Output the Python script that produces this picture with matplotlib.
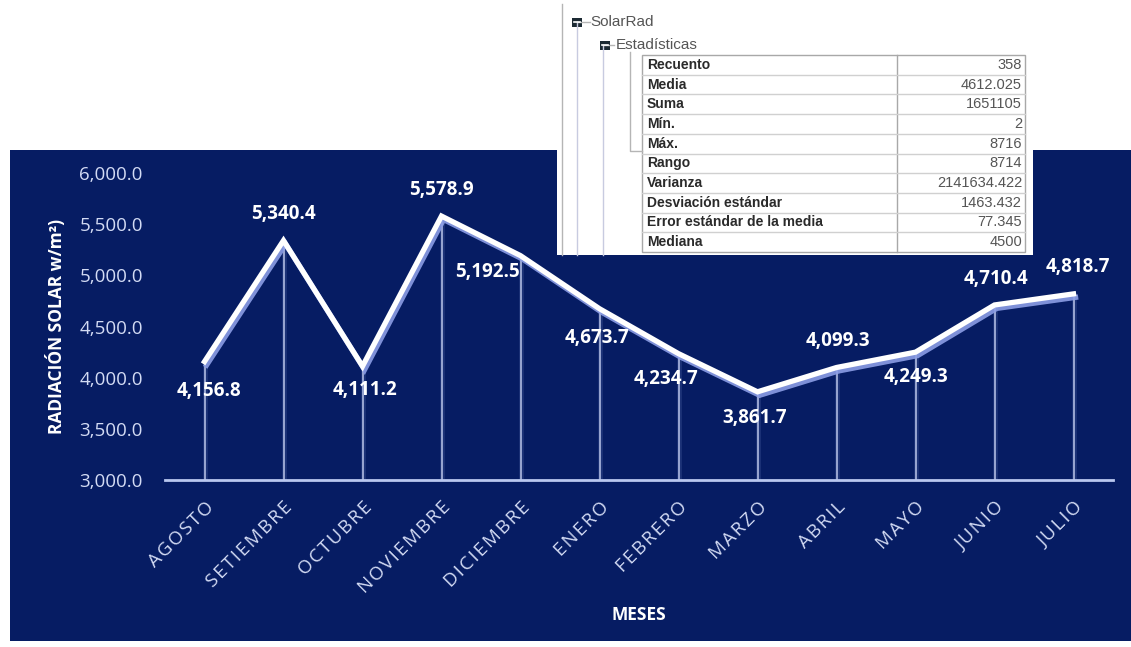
import matplotlib.pyplot as plt
import matplotlib.patheffects as pe
from matplotlib.patches import Rectangle
from matplotlib.ticker import FuncFormatter

# monthly mean solar radiation
meses = ['AGOSTO', 'SETIEMBRE', 'OCTUBRE', 'NOVIEMBRE', 'DICIEMBRE', 'ENERO',
         'FEBRERO', 'MARZO', 'ABRIL', 'MAYO', 'JUNIO', 'JULIO']
radiacion = [4156.8, 5340.4, 4111.2, 5578.9, 5192.5, 4673.7,
             4234.7, 3861.7, 4099.3, 4249.3, 4710.4, 4818.7]

# descriptive statistics of SolarRad
est_nombres = ['Recuento', 'Media', 'Suma', 'Mín.', 'Máx.', 'Rango', 'Varianza',
               'Desviación estándar', 'Error estándar de la media', 'Mediana']
est_valores = ['358', '4612.025', '1651105', '2', '8716', '8714', '2141634.422',
               '1463.432', '77.345', '4500']

NAVY = '#061c63'
LIGHT = '#d3dbf4'
FONT = ['Open Sans', 'DejaVu Sans']
W, H = 1131, 647

fig = plt.figure(figsize=(W / 100, H / 100), dpi=100)
fig.patch.set_facecolor('white')

# dark background block
bg = fig.add_axes([0, 0, 1, 1], zorder=0)
bg.set_xlim(0, W)
bg.set_ylim(H, 0)
bg.axis('off')
bg.add_patch(Rectangle((10, 150), 1121, 491, facecolor=NAVY, edgecolor='none'))

ax = fig.add_axes([165 / W, 1 - 480 / H, 948 / W, 307 / H], zorder=1)
ax.set_facecolor('none')
x = list(range(len(meses)))
ax.set_xlim(-0.5, len(meses) - 0.5)
ax.set_ylim(3000, 6000)

# drop lines from each point to the axis
ax.vlines(x, 3000, radiacion, colors='#9fb0ea', linewidth=3.5, alpha=0.15, zorder=2)
ax.vlines(x, 3000, radiacion, colors='#c9d3f4', linewidth=1.2, alpha=0.85, zorder=2)

ax.plot(x, radiacion, color='white', linewidth=3.8, solid_joinstyle='miter',
        zorder=4,
        path_effects=[pe.SimpleLineShadow(offset=(1.5, -2.5), shadow_color='#8c9ee6',
                                          alpha=0.9),
                      pe.Normal()])

# label offsets in points (dx, dy)
offsets = [(3, -21), (0, 19), (2, -17), (0, 19), (-24, -12), (-2, -21),
           (-9, -18), (-2, -19), (1, 19), (0, -18), (1, 19), (3, 19)]
for xi, v, (dx, dy) in zip(x, radiacion, offsets):
    ax.annotate(f'{v:,.1f}', (xi, v), xytext=(dx, dy), textcoords='offset points',
                ha='center', va='center', color='white', fontsize=13.5,
                fontweight='bold', family=FONT, zorder=5)

for s in ['top', 'right', 'left']:
    ax.spines[s].set_visible(False)
ax.spines['bottom'].set_color('#b9c7ef')
ax.spines['bottom'].set_linewidth(2)

ax.yaxis.set_major_formatter(FuncFormatter(lambda v, p: f'{v:,.1f}'))
ax.set_yticks(range(3000, 6001, 500))
ax.tick_params(axis='y', length=0, pad=16, labelcolor=LIGHT, labelsize=13.5)
ax.tick_params(axis='x', length=0, pad=13, labelcolor=LIGHT, labelsize=13.5)
ax.set_xticks(x)
# month names are set slightly letter-spaced
ax.set_xticklabels(['\u200a'.join(m) for m in meses], rotation=45, ha='right',
                   rotation_mode='anchor', family=FONT)
for t in ax.get_yticklabels():
    t.set_family(FONT)

ax.set_ylabel('RADIACIÓN SOLAR w/m²)', color='white', fontsize=12.5,
              fontweight='bold', family=FONT)
ax.yaxis.set_label_coords(-0.104, 0.5)
ax.set_xlabel('MESES', color='white', fontsize=12.5, fontweight='bold',
              family=FONT)
ax.xaxis.set_label_coords(0.5, -0.41)

# statistics panel in pixel coordinates
ov = fig.add_axes([0, 0, 1, 1], zorder=10)
ov.set_xlim(0, W)
ov.set_ylim(H, 0)
ov.axis('off')
ov.add_patch(Rectangle((557, 0), 476, 255, facecolor='white', edgecolor='none'))
grey = '#b5b5b5'
ov.plot([562, 562], [4, 255], color=grey, lw=1)
ov.plot([577, 577], [22, 255], color='#c8cbe0', lw=1)
ov.plot([603, 603], [45, 255], color='#c8cbe0', lw=1)
ov.plot([630, 630, 642], [52, 151, 151], color=grey, lw=1)
ov.plot([577, 590], [22, 22], color=grey, lw=1)
ov.plot([603, 614], [45, 45], color=grey, lw=1)
for cx, cy in [(577, 22), (605, 45)]:
    ov.add_patch(Rectangle((cx - 5, cy - 4.5), 10, 9, facecolor='#1c2a33',
                           edgecolor='none'))
    ov.plot([cx - 3, cx + 3], [cy, cy], color='white', lw=1.2)
ov.text(590, 22, 'SolarRad', va='center', ha='left', fontsize=11,
        color='#555555', family='Liberation Sans')
ov.text(616, 45, 'Estadísticas', va='center', ha='left', fontsize=11,
        color='#555555', family='Liberation Sans')

top, rh = 55, 19.7
left, mid, right = 642, 897, 1025
n = len(est_nombres)
ov.add_patch(Rectangle((left, top), right - left, rh * n, facecolor='white',
                       edgecolor='#a8a8a8', lw=1))
ov.plot([mid, mid], [top, top + rh * n], color='#a8a8a8', lw=1)
for i, (nombre, valor) in enumerate(zip(est_nombres, est_valores)):
    y0 = top + rh * i
    if i:
        ov.plot([left, right], [y0, y0], color='#d0d0d0', lw=1)
    ov.text(left + 5, y0 + rh / 2, nombre, va='center', ha='left', fontsize=10,
            fontweight='bold', color='#2a2a2a', family='Liberation Sans')
    ov.text(right - 3, y0 + rh / 2, valor, va='center', ha='right', fontsize=10.5,
            color='#555555', family='Liberation Sans')

fig.savefig('out.png', dpi=100, facecolor='white')
